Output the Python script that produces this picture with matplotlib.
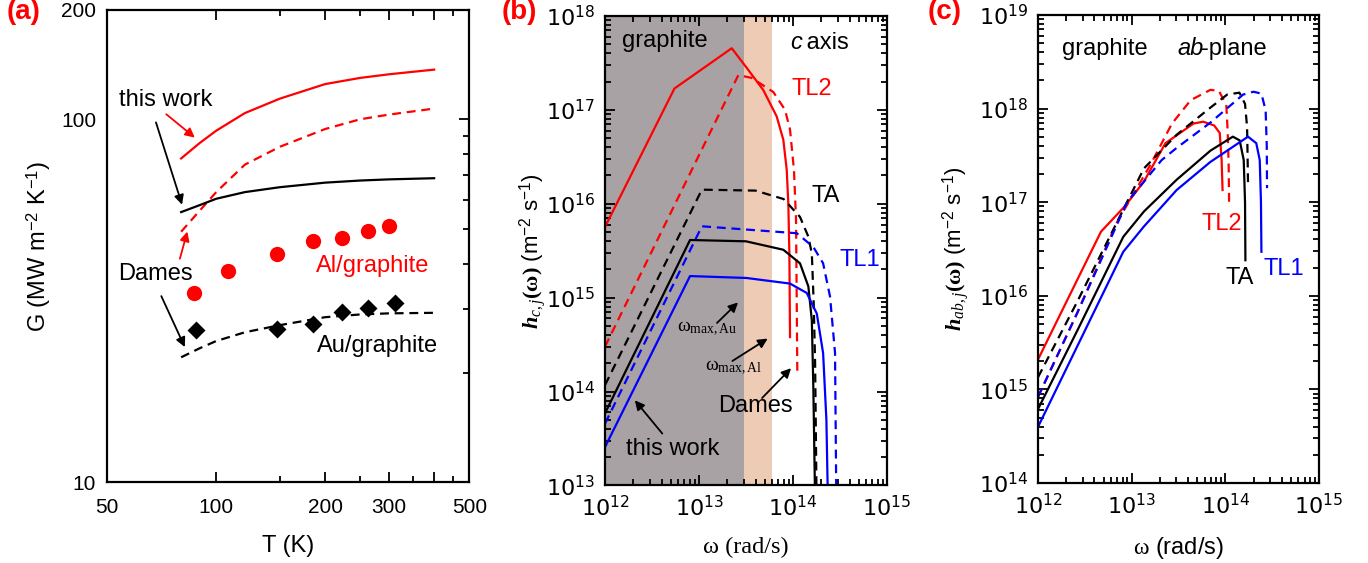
import numpy as np
import matplotlib
matplotlib.use("Agg")
import matplotlib.pyplot as plt
from matplotlib.ticker import FixedLocator, NullFormatter, LogLocator

plt.rcParams['font.family'] = ['Liberation Sans', 'DejaVu Sans']
plt.rcParams['mathtext.fontset'] = 'custom'
plt.rcParams['mathtext.rm'] = 'Liberation Serif'
plt.rcParams['mathtext.it'] = 'Liberation Serif:italic'
plt.rcParams['mathtext.bf'] = 'Liberation Serif:bold'
plt.rcParams['mathtext.bfit'] = 'Liberation Serif:bold:italic'
plt.rcParams['mathtext.sf'] = 'Liberation Sans'

RED = '#ff0000'
BLUE = '#0000ff'
GRAY = '#a8a2a4'
PEACH = '#edcbb5'

# ---- panel (a): G vs T ----
T_line = [80, 90, 100, 120, 150, 200, 250, 300, 400]
G_al_this = [78, 86, 93, 104, 114, 125, 130, 133, 137]
G_al_dames = [49, 56, 63, 75, 84, 94, 100, 103, 107]
G_au_this = [55.5, 58, 60.4, 63, 65, 66.9, 67.8, 68.3, 68.8]
G_au_dames = [22.1, 23.4, 24.5, 25.9, 27.1, 28.5, 29.0, 29.2, 29.3]
T_al = [87, 108, 147, 185, 223, 262, 300]
G_al = [33.3, 38.2, 42.6, 46.3, 47.2, 49.2, 50.9]
T_au = [88, 147, 185, 223, 262, 312]
G_au = [26.2, 26.4, 27.3, 29.5, 30.3, 31.1]

# ---- panel (b): c axis, log10 of omega and h ----
b_tl2_this = ([12, 12.738, 13.348, 13.52, 13.684, 13.826, 13.897, 13.933, 13.95, 13.961, 13.968],
              [15.754, 17.227, 17.656, 17.43, 17.21, 16.93, 16.68, 16.36, 16.0, 15.47, 14.58])
b_tl2_dames = ([12, 13.418, 13.56, 13.79, 13.915, 13.968, 14.01, 14.032, 14.046],
               [14.48, 17.37, 17.34, 17.19, 17.0, 16.79, 16.36, 15.83, 14.16])
b_ta_dames = ([12, 13.03, 13.6, 13.9, 14.074, 14.163, 14.2, 14.22, 14.235, 14.25],
              [14.07, 16.15, 16.14, 16.05, 15.86, 15.65, 15.47, 14.94, 14.3, 12.9])
b_ta_this = ([12, 12.904, 13.5, 13.897, 14.074, 14.163, 14.2, 14.216, 14.234],
             [13.77, 15.614, 15.6, 15.51, 15.366, 15.12, 14.76, 14.05, 12.9])
b_tl1_dames = ([12, 13.03, 14.04, 14.216, 14.32, 14.394, 14.447, 14.46],
               [13.66, 15.76, 15.686, 15.54, 15.366, 15.01, 14.41, 12.9])
b_tl1_this = ([12, 12.904, 13.5, 13.968, 14.146, 14.253, 14.32, 14.355, 14.37],
              [13.41, 15.23, 15.21, 15.15, 15.05, 14.83, 14.41, 13.7, 12.9])
w_max_au = 3.0e13
w_max_al = 6.0e13

# ---- panel (c): ab-plane, log10 of omega and h ----
c_tl2_this = ([12, 12.672, 12.93, 13.13, 13.36, 13.66, 13.763, 13.88, 13.94, 13.96, 13.97],
              [15.32, 16.685, 16.96, 17.22, 17.63, 17.84, 17.86, 17.82, 17.74, 17.45, 17.13])
c_tl2_dames = ([12, 12.42, 12.84, 13.2, 13.43, 13.63, 13.84, 13.93, 14.01, 14.025, 14.035, 14.04],
               [14.92, 15.82, 16.78, 17.4, 17.84, 18.09, 18.2, 18.19, 18.04, 17.75, 17.4, 16.99])
c_ta_dames = ([12, 12.42, 12.88, 13.13, 13.48, 13.84, 14.02, 14.15, 14.21, 14.232, 14.242],
              [15.13, 15.94, 16.86, 17.36, 17.72, 18.01, 18.15, 18.17, 18.05, 17.8, 17.2])
c_ta_this = ([12, 12.42, 12.91, 13.13, 13.48, 13.84, 14.08, 14.153, 14.196, 14.21, 14.214],
             [14.79, 15.63, 16.63, 16.9, 17.24, 17.55, 17.70, 17.66, 17.45, 17.0, 16.38])
c_tl1_dames = ([12, 12.42, 12.95, 13.32, 13.48, 13.84, 14.19, 14.3, 14.385, 14.43, 14.442, 14.445],
               [14.92, 15.82, 17.0, 17.45, 17.58, 17.85, 18.15, 18.18, 18.16, 17.98, 17.6, 17.15])
c_tl1_this = ([12, 12.91, 13.13, 13.48, 13.84, 14.242, 14.33, 14.367, 14.38, 14.385],
              [14.6, 16.47, 16.74, 17.13, 17.43, 17.70, 17.63, 17.45, 17.0, 16.47])

LW = 1.6
SOLID = dict(lw=LW, ls='-')
DASH = dict(lw=LW, ls=(0, (4, 2.6)))

fig = plt.figure(figsize=(13.68, 5.63), dpi=100)
axa = fig.add_axes([0.0784, 0.1433, 0.2646, 0.839])
axb = fig.add_axes([0.4423, 0.1377, 0.2061, 0.834])
axc = fig.add_axes([0.7588, 0.1421, 0.2054, 0.8313])

for ax in (axa, axb, axc):
    for s in ax.spines.values():
        s.set_linewidth(1.6)
    ax.tick_params(which='both', direction='in', top=True, right=True, width=1.3)
    ax.tick_params(which='major', length=7)
    ax.tick_params(which='minor', length=4)

# panel a
axa.plot(T_line, G_al_this, color=RED, **SOLID)
axa.plot(T_line, G_al_dames, color=RED, **DASH)
axa.plot(T_line, G_au_this, color='black', **SOLID)
axa.plot(T_line, G_au_dames, color='black', **DASH)
axa.plot(T_al, G_al, 'o', color=RED, ms=11, mec='none')
axa.plot(T_au, G_au, 'D', color='black', ms=9.5, mec='none')
axa.set_xscale('log')
axa.set_yscale('log')
axa.set_xlim(50, 500)
axa.set_ylim(10, 200)
axa.xaxis.set_major_locator(FixedLocator([50, 100, 200, 300, 400, 500]))
axa.set_xticklabels(['50', '100', '200', '300', '', '500'])
axa.xaxis.set_minor_locator(FixedLocator([150, 250, 350, 450]))
axa.xaxis.set_minor_formatter(NullFormatter())
axa.yaxis.set_major_locator(FixedLocator([10, 100, 200]))
axa.set_yticklabels(['10', '100', '200'])
axa.yaxis.set_minor_locator(FixedLocator([20, 30, 40, 50, 60, 70, 80, 90]))
axa.yaxis.set_minor_formatter(NullFormatter())
axa.tick_params(which='both', left=False, labelsize=15)
axa.tick_params(axis='x', pad=11)
axa.tick_params(axis='y', pad=8)
axa.set_xlabel('T (K)', fontsize=17)
axa.set_ylabel(r'G (MW m$^{\mathdefault{-2}}$ K$^{\mathdefault{-1}}$)', fontsize=17)
axa.xaxis.set_label_coords(0.5, -0.112)
axa.yaxis.set_label_coords(-0.15, 0.5)

arr_k = dict(arrowstyle='-|>', color='black', lw=1.3, mutation_scale=14)
arr_r = dict(arrowstyle='-|>', color=RED, lw=1.3, mutation_scale=14)
axa.text(72.7, 113, 'this work', fontsize=17, ha='center', va='center')
axa.annotate('', xy=(80.9, 57.2), xytext=(67.8, 99.7), arrowprops=arr_k)
axa.annotate('', xy=(88.5, 88), xytext=(71.8, 104.4), arrowprops=arr_r)
axa.text(67.8, 37.4, 'Dames', fontsize=17, ha='center', va='center')
axa.annotate('', xy=(83.6, 49.9), xytext=(79, 40.6), arrowprops=arr_r)
axa.annotate('', xy=(82.5, 23.2), xytext=(70, 33.1), arrowprops=arr_k)
axa.text(270, 39.5, 'Al/graphite', fontsize=17, ha='center', va='center', color=RED)
axa.text(279, 23.8, 'Au/graphite', fontsize=17, ha='center', va='center')

# panel b
axb.axvspan(1e12, w_max_au, color=GRAY, lw=0, zorder=0)
axb.axvspan(w_max_au, w_max_al, color=PEACH, lw=0, zorder=0)
for (lw_, lh_), col, st in [(b_tl2_this, RED, SOLID), (b_tl2_dames, RED, DASH),
                            (b_ta_dames, 'black', DASH), (b_ta_this, 'black', SOLID),
                            (b_tl1_dames, BLUE, DASH), (b_tl1_this, BLUE, SOLID)]:
    axb.plot(10 ** np.array(lw_), 10 ** np.array(lh_), color=col, **st)
axb.set_xscale('log')
axb.set_yscale('log')
axb.set_xlim(1e12, 1e15)
axb.set_ylim(1e13, 1e18)
axb.set_xlabel('ω (rad/s)', fontsize=17.5, family='Liberation Serif')
axb.set_ylabel(r'$\mathbfit{h}_{\mathit{c,j}}\mathbf{(\omega)}$ (m$^{\mathdefault{-2}}$ s$^{\mathdefault{-1}}$)', fontsize=16)
axb.xaxis.set_label_coords(0.5, -0.11)
axb.yaxis.set_label_coords(-0.2, 0.5)
axb.text(4.35e12, 5.4e17, 'graphite', fontsize=17, ha='center', va='center')
axb.text(9.3e13, 5.2e17, 'c', fontsize=17, ha='left', va='center', style='italic')
axb.text(1.19e14, 5.2e17, ' axis', fontsize=17, ha='left', va='center')
axb.text(1.6e14, 1.66e17, 'TL2', fontsize=17, ha='center', va='center', color=RED)
axb.text(2.2e14, 1.22e16, 'TA', fontsize=17, ha='center', va='center')
axb.text(5.1e14, 2.5e15, 'TL1', fontsize=17, ha='center', va='center', color=BLUE)
axb.text(5.8e12, 4.7e14, r'$\mathrm{\omega_{max,Au}}$', fontsize=14, ha='left', va='center')
axb.text(1.16e13, 1.8e14, r'$\mathrm{\omega_{max,Al}}$', fontsize=14, ha='left', va='center')
axb.text(3.95e13, 7.1e13, 'Dames', fontsize=17, ha='center', va='center')
axb.text(5.3e12, 2.45e13, 'this work', fontsize=17, ha='center', va='center')
axb.annotate('', xy=(10 ** 13.436, 10 ** 14.97), xytext=(10 ** 13.17, 10 ** 14.71), arrowprops=arr_k)
axb.annotate('', xy=(10 ** 13.755, 10 ** 14.58), xytext=(10 ** 13.33, 10 ** 14.31), arrowprops=arr_k)
axb.annotate('', xy=(10 ** 14.0, 10 ** 14.27), xytext=(10 ** 13.65, 10 ** 13.91), arrowprops=arr_k)
axb.annotate('', xy=(10 ** 12.298, 10 ** 13.93), xytext=(10 ** 12.628, 10 ** 13.53), arrowprops=arr_k)

# panel c
for (lw_, lh_), col, st in [(c_tl2_this, RED, SOLID), (c_tl2_dames, RED, DASH),
                            (c_ta_dames, 'black', DASH), (c_ta_this, 'black', SOLID),
                            (c_tl1_dames, BLUE, DASH), (c_tl1_this, BLUE, SOLID)]:
    axc.plot(10 ** np.array(lw_), 10 ** np.array(lh_), color=col, **st)
axc.set_xscale('log')
axc.set_yscale('log')
axc.set_xlim(1e12, 1e15)
axc.set_ylim(1e14, 1e19)
axc.set_xlabel(r'$\mathrm{\omega}$ (rad/s)', fontsize=17)
axc.set_ylabel(r'$\mathbfit{h}_{\mathit{ab,j}}\mathbf{(\omega)}$ (m$^{\mathdefault{-2}}$ s$^{\mathdefault{-1}}$)', fontsize=16)
axc.xaxis.set_label_coords(0.5, -0.111)
axc.yaxis.set_label_coords(-0.235, 0.5)
axc.text(10 ** 12.714, 10 ** 18.64, 'graphite', fontsize=17, ha='center', va='center')
axc.text(10 ** 13.63, 10 ** 18.64, 'ab', fontsize=17, ha='center', va='center', style='italic')
axc.text(10 ** 13.745, 10 ** 18.64, '-plane', fontsize=17, ha='left', va='center')
axc.text(10 ** 13.96, 10 ** 16.77, 'TL2', fontsize=17, ha='center', va='center', color=RED)
axc.text(10 ** 14.153, 10 ** 16.19, 'TA', fontsize=17, ha='center', va='center')
axc.text(10 ** 14.62, 10 ** 16.29, 'TL1', fontsize=17, ha='center', va='center', color=BLUE)

for ax in (axb, axc):
    ax.xaxis.set_major_locator(LogLocator(base=10, numticks=10))
    ax.yaxis.set_major_locator(LogLocator(base=10, numticks=10))
    ax.xaxis.set_minor_locator(LogLocator(base=10, subs=np.arange(2, 10), numticks=20))
    ax.yaxis.set_minor_locator(LogLocator(base=10, subs=np.arange(2, 10), numticks=20))
    ax.xaxis.set_minor_formatter(NullFormatter())
    ax.yaxis.set_minor_formatter(NullFormatter())
    ax.tick_params(which='both', labelsize=16, pad=7, labelfontfamily='DejaVu Sans')

fig.text(0.005, 0.979, '(a)', color=RED, fontsize=20, fontweight='bold', va='center')
fig.text(0.367, 0.979, '(b)', color=RED, fontsize=20, fontweight='bold', va='center')
fig.text(0.678, 0.979, '(c)', color=RED, fontsize=20, fontweight='bold', va='center')

fig.savefig('out.png', dpi=100)
